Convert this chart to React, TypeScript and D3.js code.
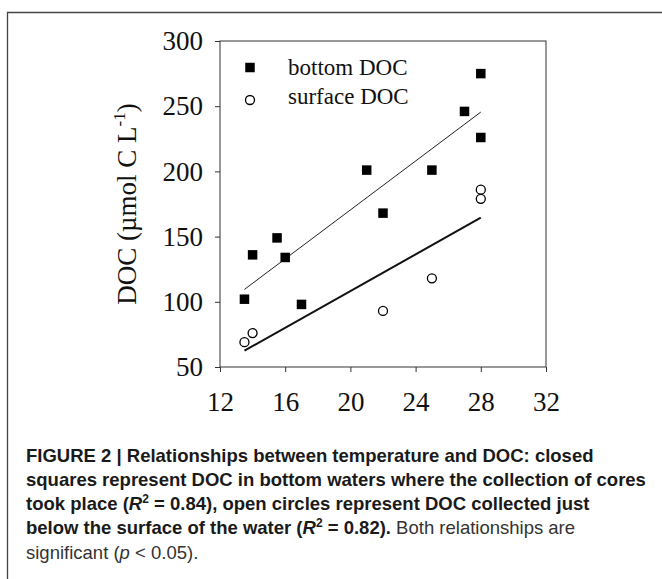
import React, { useEffect, useRef } from "react";
import * as d3 from "d3";

// bottom water DOC (closed squares)
const bottomTemp = [13.5, 14, 15.5, 16, 17, 21, 22, 25, 27, 28, 28];
const bottomDoc = [102, 136, 149, 134, 98, 201, 168, 201, 246, 275, 226];

// surface water DOC (open circles)
const surfaceTemp = [13.5, 14, 22, 25, 28, 28];
const surfaceDoc = [69, 76, 93, 118, 186, 179];

// regression line end points
const fitTemp = [13.5, 28];
const bottomFit = [109.5, 245.5];
const surfaceFit = [62.5, 164.5];

const xTicks = [12, 16, 20, 24, 28, 32];
const yTicks = [50, 100, 150, 200, 250, 300];
const legendLabels = ["bottom DOC", "surface DOC"];

export default function App() {
  const ref = useRef<SVGSVGElement | null>(null);

  useEffect(() => {
    const width = 662;
    const height = 579;
    const marginTop = 41;
    const marginLeft = 220;
    const plotSize = 326;

    const svg = d3.select(ref.current);
    svg.selectAll("*").remove();
    svg.attr("width", width).attr("height", height);

    // outer frame (only top and left edges fall inside the picture)
    svg
      .append("path")
      .attr("d", `M7.5,${height} V12.5 H${width}`)
      .attr("fill", "none")
      .attr("stroke", "#444")
      .attr("stroke-width", 1.3);

    const x = d3.scaleLinear([12, 32], [marginLeft, marginLeft + plotSize]);
    const y = d3.scaleLinear([50, 300], [marginTop + plotSize, marginTop]);

    const serif = "'Liberation Serif', 'Times New Roman', serif";

    // plot box
    svg
      .append("rect")
      .attr("x", x(12))
      .attr("y", y(300))
      .attr("width", x(32) - x(12))
      .attr("height", y(50) - y(300))
      .attr("fill", "none")
      .attr("stroke", "#333")
      .attr("stroke-width", 1);

    // x axis
    svg
      .append("g")
      .attr("transform", `translate(0,${y(50)})`)
      .call(d3.axisBottom(x).tickValues(xTicks).tickSize(5).tickPadding(20))
      .call((g) => g.select(".domain").remove())
      .call((g) => g.selectAll(".tick line").attr("stroke", "#333"))
      .call((g) =>
        g
          .selectAll(".tick text")
          .attr("font-family", serif)
          .attr("font-size", 27)
          .attr("fill", "#111")
      );

    // y axis
    svg
      .append("g")
      .attr("transform", `translate(${x(12)},0)`)
      .call(d3.axisLeft(y).tickValues(yTicks).tickSize(5).tickPadding(12))
      .call((g) => g.select(".domain").remove())
      .call((g) => g.selectAll(".tick line").attr("stroke", "#333"))
      .call((g) =>
        g
          .selectAll(".tick text")
          .attr("font-family", serif)
          .attr("font-size", 27)
          .attr("fill", "#111")
      );

    // y axis title
    const yt = svg
      .append("text")
      .attr("transform", `translate(136,${(y(50) + y(300)) / 2}) rotate(-90)`)
      .attr("text-anchor", "middle")
      .attr("font-family", serif)
      .attr("font-size", 27)
      .attr("fill", "#111");
    yt.append("tspan").text("DOC (µmol C L");
    yt.append("tspan").attr("font-size", 17).attr("dy", -11).text("-1");
    yt.append("tspan").attr("dy", 11).text(")");

    // regression lines
    svg
      .append("path")
      .attr("d", d3.line()(fitTemp.map((t, i) => [x(t), y(bottomFit[i])])))
      .attr("stroke", "#222")
      .attr("stroke-width", 1)
      .attr("fill", "none");
    svg
      .append("path")
      .attr("d", d3.line()(fitTemp.map((t, i) => [x(t), y(surfaceFit[i])])))
      .attr("stroke", "#111")
      .attr("stroke-width", 2)
      .attr("fill", "none");

    // squares
    const sq = 9.5;
    svg
      .append("g")
      .selectAll("rect")
      .data(bottomTemp.map((t, i) => [t, bottomDoc[i]]))
      .join("rect")
      .attr("x", (d) => x(d[0]) - sq / 2)
      .attr("y", (d) => y(d[1]) - sq / 2)
      .attr("width", sq)
      .attr("height", sq)
      .attr("fill", "#000");

    // circles
    svg
      .append("g")
      .selectAll("circle")
      .data(surfaceTemp.map((t, i) => [t, surfaceDoc[i]]))
      .join("circle")
      .attr("cx", (d) => x(d[0]))
      .attr("cy", (d) => y(d[1]))
      .attr("r", 4.5)
      .attr("fill", "#fff")
      .attr("stroke", "#000")
      .attr("stroke-width", 1.3);

    // legend
    const lg = svg.append("g");
    lg.append("rect")
      .attr("x", 250 - sq / 2)
      .attr("y", 67.5 - sq / 2)
      .attr("width", sq)
      .attr("height", sq)
      .attr("fill", "#000");
    lg.append("circle")
      .attr("cx", 250)
      .attr("cy", 100)
      .attr("r", 4.5)
      .attr("fill", "#fff")
      .attr("stroke", "#000")
      .attr("stroke-width", 1.3);
    lg.selectAll("text")
      .data(legendLabels)
      .join("text")
      .attr("x", 288)
      .attr("y", (d, i) => 75 + i * 29)
      .attr("font-family", serif)
      .attr("font-size", 23)
      .attr("fill", "#111")
      .text((d) => d);

    // caption
    const sans = "'Liberation Sans', Arial, sans-serif";
    const cap = svg
      .append("g")
      .attr("font-family", sans)
      .attr("font-size", 18.5)
      .attr("fill", "#1a1a1a");
    const lineY = [461.5, 485.7, 510, 534.2, 558.5];
    const cx = 26;

    const l1 = cap.append("text").attr("x", cx).attr("y", lineY[0]).attr("font-weight", "bold");
    l1.text("FIGURE 2 | Relationships between temperature and DOC: closed");

    const l2 = cap.append("text").attr("x", cx).attr("y", lineY[1]).attr("font-weight", "bold");
    l2.text("squares represent DOC in bottom waters where the collection of cores");

    const l3 = cap.append("text").attr("x", cx).attr("y", lineY[2]).attr("font-weight", "bold");
    l3.append("tspan").text("took place (");
    l3.append("tspan").attr("font-style", "italic").text("R");
    l3.append("tspan").attr("font-size", 12).attr("dy", -7).text("2");
    l3.append("tspan").attr("dy", 7).text(" = 0.84), open circles represent DOC collected just");

    const l4 = cap.append("text").attr("x", cx).attr("y", lineY[3]);
    l4.append("tspan").attr("font-weight", "bold").text("below the surface of the water (");
    l4.append("tspan").attr("font-weight", "bold").attr("font-style", "italic").text("R");
    l4.append("tspan").attr("font-weight", "bold").attr("font-size", 12).attr("dy", -7).text("2");
    l4.append("tspan").attr("font-weight", "bold").attr("dy", 7).text(" = 0.82).");
    l4.append("tspan").attr("fill", "#333").text(" Both relationships are");

    const l5 = cap.append("text").attr("x", cx).attr("y", lineY[4]).attr("fill", "#333");
    l5.append("tspan").text("significant (");
    l5.append("tspan").attr("font-style", "italic").text("p");
    l5.append("tspan").text(" < 0.05).");
  }, []);

  return (
    <svg
      ref={ref}
      style={{ position: "absolute", left: 0, top: 0, display: "block" }}
    />
  );
}
